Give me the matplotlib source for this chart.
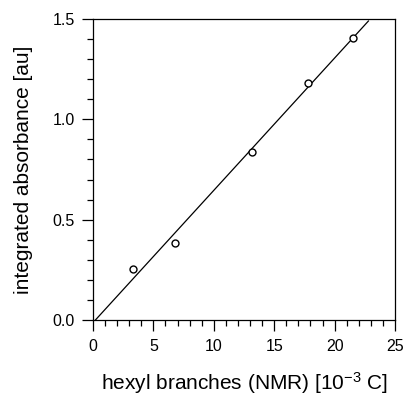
import matplotlib
matplotlib.use("Agg")
import matplotlib.pyplot as plt
from matplotlib.ticker import MultipleLocator

plt.rcParams['font.family'] = ['Liberation Sans', 'DejaVu Sans']
plt.rcParams['mathtext.fontset'] = 'custom'
plt.rcParams['mathtext.rm'] = 'Liberation Sans'
plt.rcParams['mathtext.it'] = 'Liberation Sans:italic'
plt.rcParams['mathtext.bf'] = 'Liberation Sans:bold'

# data
hexyl_x = [3.3, 6.8, 13.2, 17.8, 21.55]
absorb_y = [0.255, 0.382, 0.837, 1.181, 1.407]
fit_x = [0.2, 22.8]
fit_y = [0.0, 1.49]
x_ticks = [0, 5, 10, 15, 20, 25]
y_ticks = [0.0, 0.5, 1.0, 1.5]
y_ticklabels = ["0.0", "0.5", "1.0", "1.5"]

fig = plt.figure(figsize=(4.03, 3.96), dpi=100)
ax = fig.add_axes([93/403, 76/396, 302/403, 301/396])

ax.plot(fit_x, fit_y, color='black', lw=0.9)
ax.plot(hexyl_x, absorb_y, linestyle='none', marker='o', markersize=5,
        markerfacecolor='white', markeredgecolor='black', markeredgewidth=1.0)

ax.set_xlim(0, 25)
ax.set_ylim(0, 1.5)
ax.set_xticks(x_ticks)
ax.set_xticklabels([str(t) for t in x_ticks])
ax.set_yticks(y_ticks)
ax.set_yticklabels(y_ticklabels)
ax.xaxis.set_minor_locator(MultipleLocator(1))
ax.yaxis.set_minor_locator(MultipleLocator(0.1))
ax.tick_params(which='both', direction='out', top=False, right=False, labelsize=11.5, width=0.9)
ax.tick_params(which='major', length=8)
ax.tick_params(axis='x', which='major', pad=6)
ax.tick_params(axis='y', which='major', pad=5)
ax.tick_params(which='minor', length=4.3)
for s in ax.spines.values():
    s.set_linewidth(0.9)

ax.set_xlabel(r"hexyl branches (NMR) [10$^{\mathregular{-3}}$ C]", fontsize=15, labelpad=11.5)
ax.set_ylabel("integrated absorbance [au]", fontsize=15, labelpad=14)

fig.savefig("out.png", dpi=100)
